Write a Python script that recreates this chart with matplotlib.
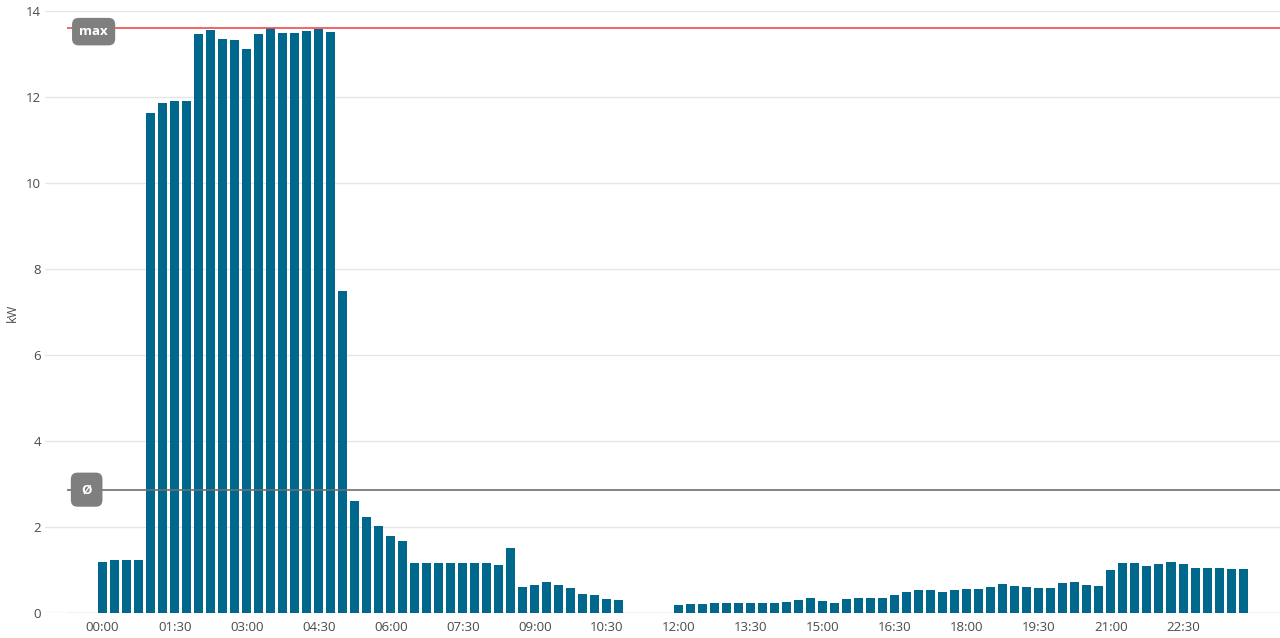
import numpy as np
import matplotlib.pyplot as plt

plt.rcParams['font.family'] = ['Open Sans', 'DejaVu Sans']

# power per 15 min slot in kW (96 slots, 0 = no reading)
power_kw = [
    1.19, 1.23, 1.23, 1.23, 11.62, 11.85, 11.90, 11.90,
    13.46, 13.56, 13.36, 13.33, 13.11, 13.47, 13.60, 13.48,
    13.48, 13.53, 13.57, 13.52, 7.50, 2.60, 2.23, 2.02,
    1.80, 1.67, 1.17, 1.17, 1.17, 1.17, 1.17, 1.17,
    1.17, 1.11, 1.51, 0.60, 0.64, 0.71, 0.64, 0.57,
    0.44, 0.43, 0.33, 0.31, 0, 0, 0, 0,
    0.18, 0.22, 0.22, 0.24, 0.24, 0.24, 0.24, 0.24,
    0.24, 0.25, 0.31, 0.36, 0.27, 0.24, 0.32, 0.36,
    0.36, 0.36, 0.43, 0.50, 0.53, 0.53, 0.49, 0.53,
    0.55, 0.55, 0.60, 0.68, 0.63, 0.60, 0.57, 0.59,
    0.70, 0.71, 0.65, 0.63, 0.99, 1.16, 1.16, 1.10,
    1.13, 1.19, 1.14, 1.05, 1.05, 1.05, 1.03, 1.02,
]
tick_labels = ["00:00", "01:30", "03:00", "04:30", "06:00", "07:30", "09:00", "10:30",
               "12:00", "13:30", "15:00", "16:30", "18:00", "19:30", "21:00", "22:30"]
y_ticks = [0, 2, 4, 6, 8, 10, 12, 14]

BAR_COLOR = '#00678d'
TEXT_COLOR = '#4a4a4a'

slots = np.arange(len(power_kw))
vals = np.array(power_kw)
avg_kw = vals.mean()
max_kw = vals.max()

fig = plt.figure(figsize=(12.8, 6.38), dpi=100)
ax = fig.add_axes([45 / 1280, 25 / 638, 1 - 45 / 1280, (613 - 11) / 638])

x_left, x_right = -4.8, 98.08
plot_start = -3  # where the actual plot area begins

ax.bar(slots, vals, width=0.75, color=BAR_COLOR, zorder=3)

ax.set_xlim(x_left, x_right)
ax.set_ylim(0, 14)
ax.set_yticks(y_ticks)
ax.set_xticks(slots[::6])
ax.set_xticklabels(tick_labels)
ax.tick_params(axis='both', length=0, labelsize=9.5, colors=TEXT_COLOR)
ax.tick_params(axis='y', pad=3)
ax.tick_params(axis='x', pad=6)

for s in ax.spines.values():
    s.set_visible(False)
ax.yaxis.grid(True, color='#e6e6e6', lw=1, zorder=0)
ax.set_axisbelow(True)
ax.hlines(0, plot_start, x_right, color='#ccd6eb', lw=1, zorder=2)

# max and average lines
ax.hlines(max_kw, plot_start, x_right, color='#f04c4c', lw=1.2, zorder=4)
ax.hlines(avg_kw, plot_start, x_right, color='#6e6e6e', lw=1.2, zorder=4)

ax.text(-0.75, max_kw - 0.08, 'max', color='white', fontsize=9.5, fontweight='bold',
        ha='center', va='center', zorder=5,
        bbox=dict(boxstyle='round,pad=0.55,rounding_size=0.5', fc='#7f7f7f', ec='none'))
ax.text(-1.33, avg_kw, 'Ø', color='white', fontsize=9.5, fontweight='bold',
        ha='center', va='center', zorder=5,
        bbox=dict(boxstyle='round,pad=0.8,rounding_size=0.5', fc='#7f7f7f', ec='none'))

fig.text(12 / 1280, 1 - 313 / 638, 'kW', rotation=90, ha='center', va='center',
         fontsize=9, color=TEXT_COLOR)

fig.savefig('out.png', dpi=100)
